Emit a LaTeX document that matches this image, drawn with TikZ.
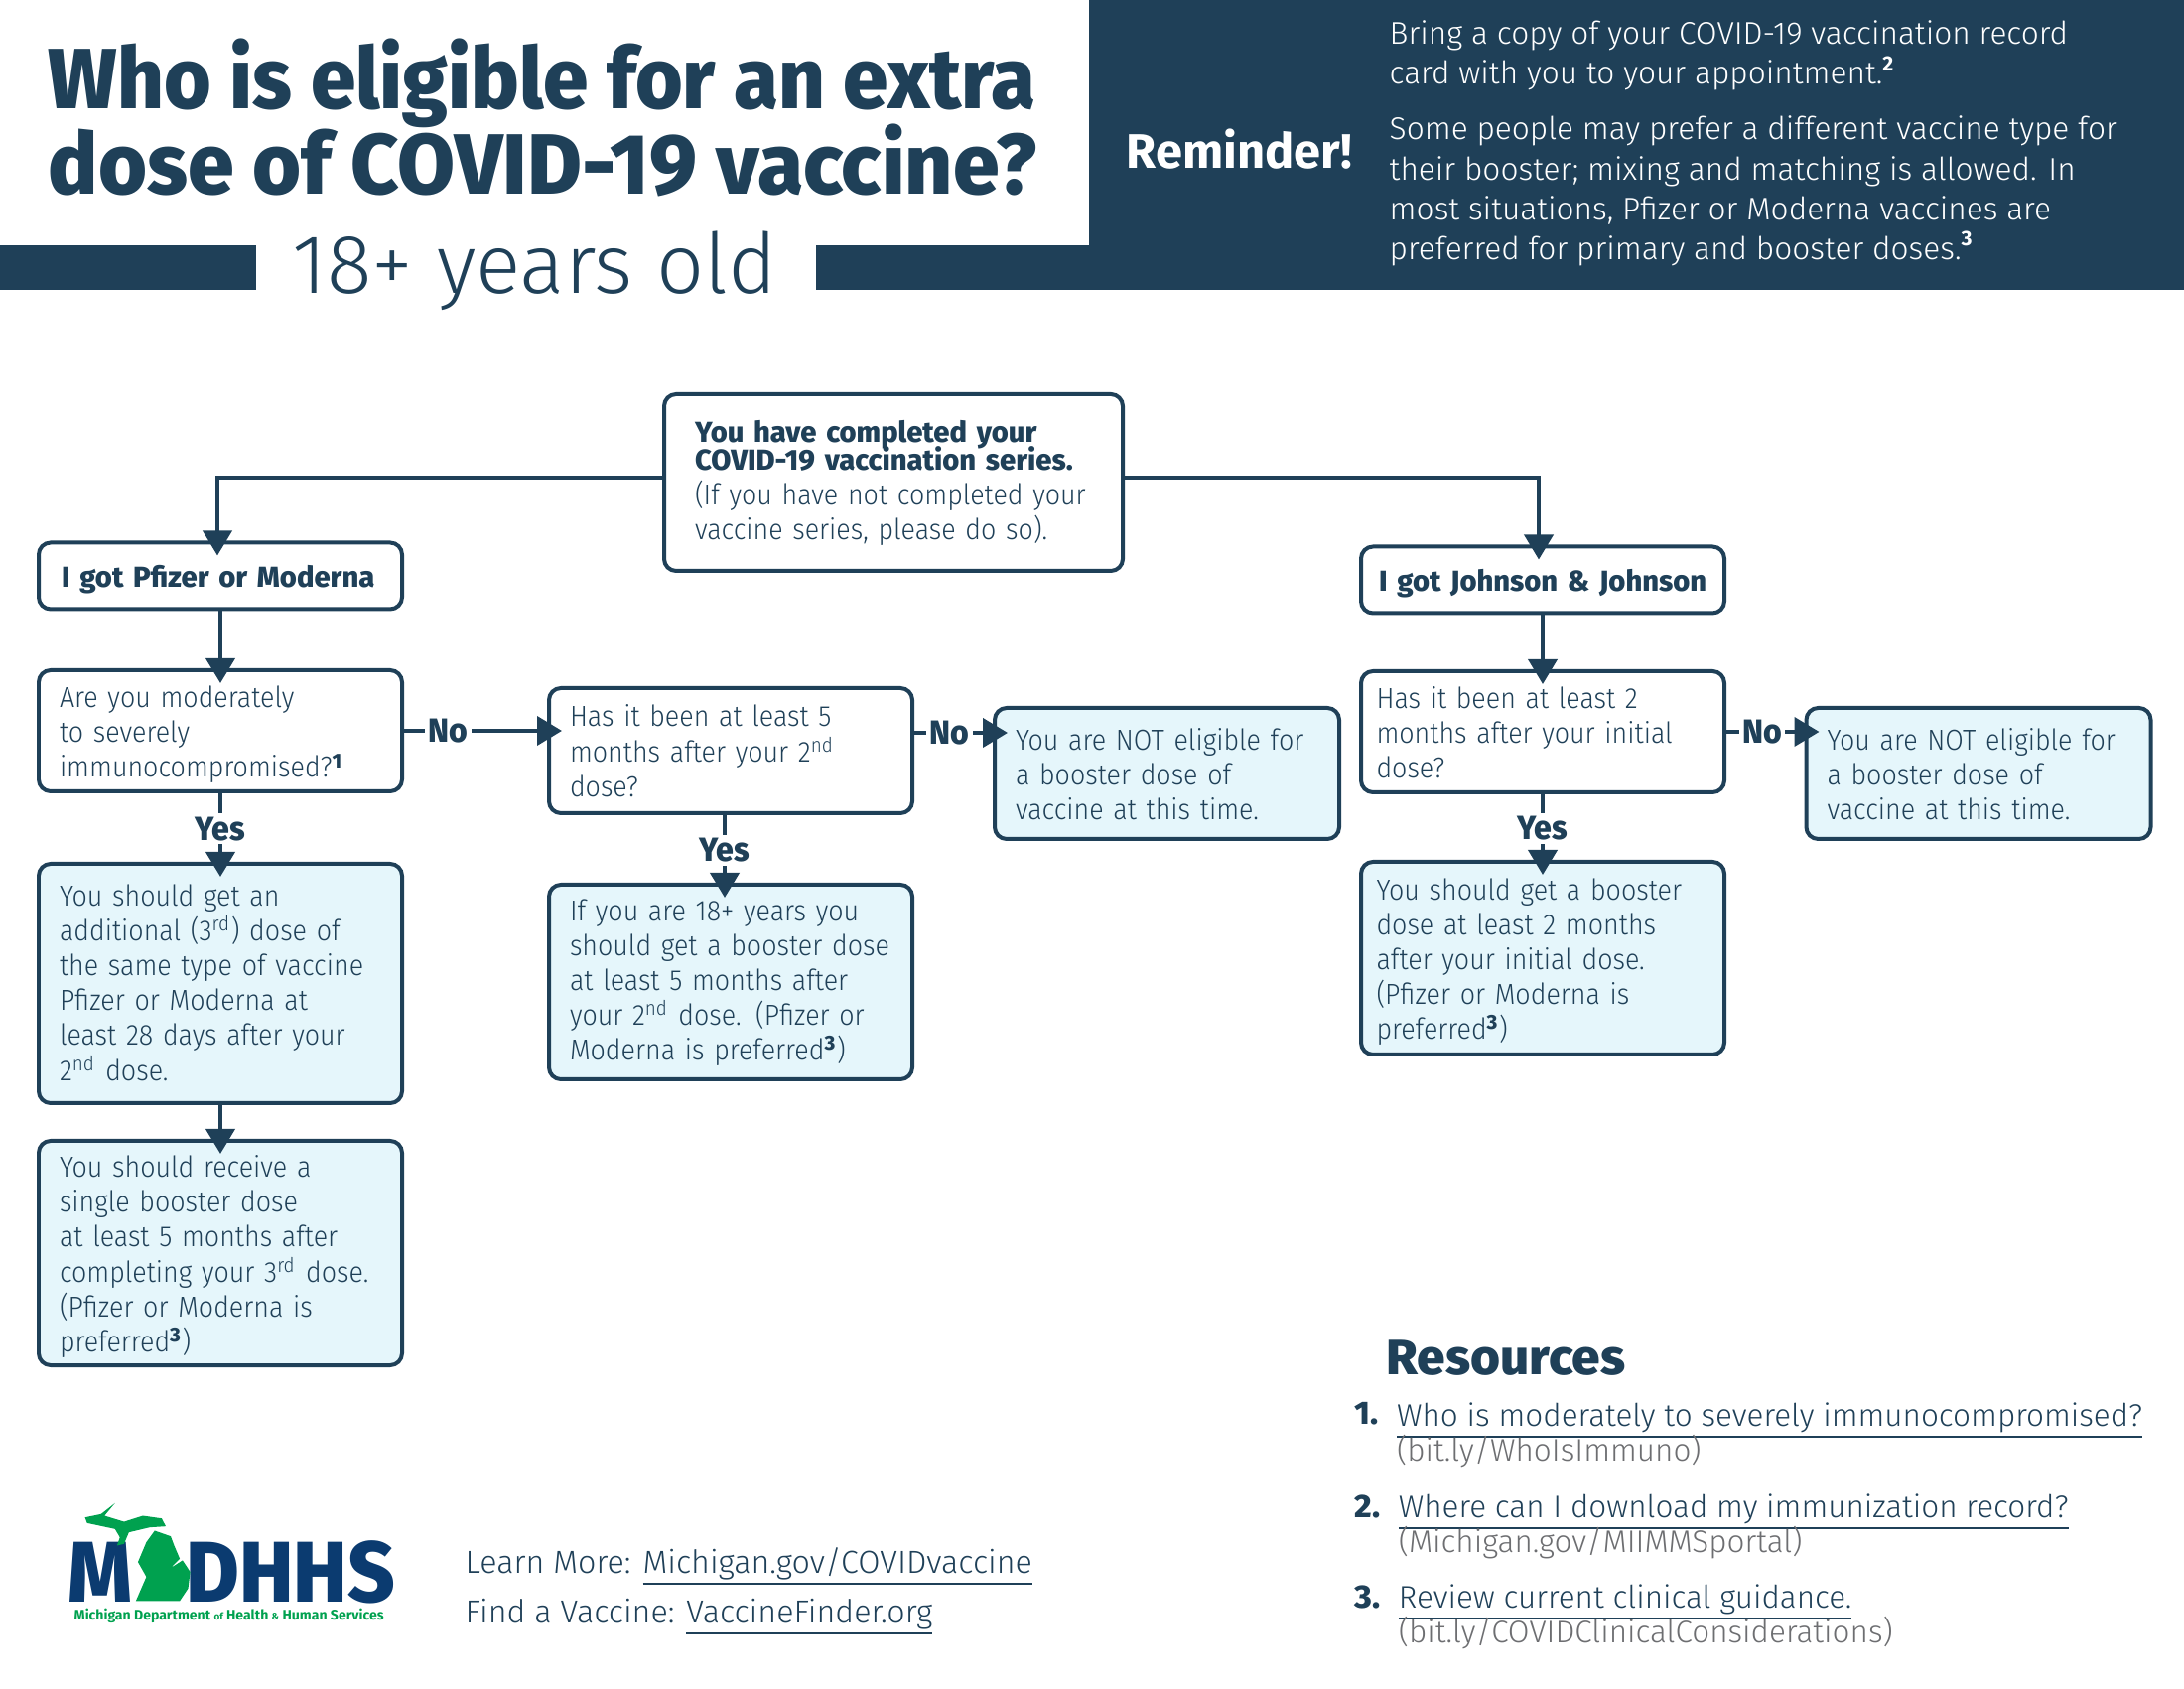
\documentclass[tikz,border=0pt]{standalone}
\usepackage{fontspec}
\setmainfont{Fira Sans Light}[BoldFont={Fira Sans Bold}]
\newfontfamily\headfont{Fira Sans ExtraBold}[FakeStretch=0.948]
\newfontfamily\widehead{Fira Sans ExtraBold}[FakeStretch=1.03]
\newfontfamily\bodyfont{Fira Sans Light}[FakeStretch=0.92, BoldFont={Fira Sans ExtraBold}, BoldFeatures={FakeStretch=1.0}]
\usepackage{xcolor}
\usetikzlibrary{arrows.meta,positioning}
\definecolor{navy}{HTML}{1F4058}
\definecolor{pale}{HTML}{E5F6FB}
\definecolor{mdblue}{HTML}{0B3B70}
\definecolor{mdgreen}{HTML}{00A14F}
\definecolor{linkgrey}{HTML}{6D6E71}
\newcommand{\linkline}[1]{\underline{\smash{#1}\rule[-1.5pt]{0pt}{0pt}}}
\newenvironment{lines}[1][0.33cm]{\begin{tabular}{@{}l@{}}\rule{0pt}{#1}\ignorespaces}{\end{tabular}}

\begin{document}
\begin{tikzpicture}[
  box/.style={draw=navy, line width=0.04cm, rounded corners=0.12cm, inner xsep=0.21cm, inner ysep=0pt, align=left, text=navy, font=\fontsize{8.3}{9.96}\selectfont\bodyfont},
  qbox/.style={box, fill=white, text width=3.24cm},
  abox/.style={box, fill=pale, text width=3.24cm},
  headbox/.style={box, fill=white, text width=3.24cm, minimum height=0.67cm},
  flow/.style={draw=navy, line width=0.04cm, -{Triangle[length=0.25cm,width=0.29cm]}, shorten >=-0.15cm},
  lab/.style={fill=white, inner sep=0.035cm, text=navy, font=\fontsize{9.6}{11}\selectfont\headfont},
  plain/.style={inner sep=0pt, anchor=west, text=navy}]

\useasboundingbox (0,0) rectangle (22,17);

\fill[navy] (10.97,17) rectangle (22,14.08);
\fill[navy] (0,14.08) rectangle (2.58,14.53);
\fill[navy] (8.22,14.08) rectangle (10.97,14.53);

\node[plain, font=\fontsize{24.5}{24.2}\selectfont\headfont] (title) at (0.48,15.70) {
\begin{tabular}{@{}l@{}}
Who is eligible for an extra \\[-0.1cm]
\scalebox{1.029}[1]{dose of COVID-19 vaccine?}
\end{tabular}
};
\node[plain, font=\fontsize{24}{29}\selectfont] (age) at (2.94,14.27) {18+ years old};

\node[plain, text=white, font=\fontsize{13.9}{17}\selectfont\bfseries] (remind) at (11.34,15.5) {Reminder!};
\node[plain, text=white, font=\fontsize{9}{11.4}\selectfont] (remtext) at (13.99,15.55) {
\begin{tabular}{@{}l@{}}
Bring a copy of your COVID-19 vaccination record \\
card with you to your appointment.\textsuperscript{\bfseries 2} \\[0.16cm]
Some people may prefer a different vaccine type for \\
their booster; mixing and matching is allowed. In \\
most situations, Pfizer or Moderna vaccines are \\
preferred for primary and booster doses.\textsuperscript{\bfseries 3}
\end{tabular}
};

\node[box, fill=white, minimum height=1.78cm, inner xsep=0.31cm, text width=4.0cm] (top) at (9.00,12.14) {
\begin{lines}[0.274cm]
\textbf{You have completed your} \\[-0.07cm]
\textbf{COVID-19 vaccination series.} \\
(If you have not completed your \\
vaccine series, please do so).
\end{lines}
};

\node[headbox, inner xsep=0.23cm, text width=3.2cm] (pfizer) at (2.22,11.20) {\begin{lines}\textbf{I got Pfizer or Moderna}\end{lines}};
\node[headbox, inner xsep=0.18cm, text width=3.3cm] (jj) at (15.54,11.16) {\begin{lines}\textbf{I got Johnson \& Johnson}\end{lines}};

\node[qbox, minimum height=1.22cm] (q1) at (2.22,9.64) {
\begin{lines}[0.345cm]
Are you moderately \\
to severely \\
immunocompromised?\textsuperscript{\bfseries 1}
\end{lines}
};
\node[qbox, minimum height=1.26cm] (q2) at (7.36,9.44) {
\begin{lines}
Has it been at least 5 \\
months after your 2\textsuperscript{nd} \\
dose?
\end{lines}
};
\node[abox, minimum height=1.32cm, text width=3.05cm] (not1) at (11.755,9.21) {
\begin{lines}
You are NOT eligible for \\
a booster dose of \\
vaccine at this time.
\end{lines}
};
\node[qbox, minimum height=1.22cm, inner xsep=0.155cm, text width=3.35cm] (q3) at (15.54,9.63) {
\begin{lines}
Has it been at least 2 \\
months after your initial \\
dose?
\end{lines}
};
\node[abox, minimum height=1.32cm, text width=3.05cm] (not2) at (19.93,9.21) {
\begin{lines}
You are NOT eligible for \\
a booster dose of \\
vaccine at this time.
\end{lines}
};

\node[abox, minimum height=2.41cm] (a1) at (2.22,7.095) {
\begin{lines}[0.30cm]
You should get an \\
additional (3\textsuperscript{rd}) dose of \\
the same type of vaccine \\
Pfizer or Moderna at \\
least 28 days after your \\
2\textsuperscript{nd} dose.
\end{lines}
};
\node[abox, minimum height=2.26cm] (a2) at (2.22,4.38) {
\begin{lines}
You should receive a \\
single booster dose \\
at least 5 months after \\
completing your 3\textsuperscript{rd} dose. \\
(Pfizer or Moderna is \\
preferred\textsuperscript{\bfseries 3})
\end{lines}
};
\node[abox, minimum height=1.96cm] (a3) at (7.36,7.11) {
\begin{lines}[0.274cm]
If you are 18+ years you \\
should get a booster dose \\
at least 5 months after \\
your 2\textsuperscript{nd} dose. (Pfizer or \\
Moderna is preferred\textsuperscript{\bfseries 3})
\end{lines}
};
\node[abox, minimum height=1.94cm, inner xsep=0.155cm, text width=3.35cm] (a4) at (15.54,7.35) {
\begin{lines}
You should get a booster \\
dose at least 2 months \\
after your initial dose. \\
(Pfizer or Moderna is \\
preferred\textsuperscript{\bfseries 3})
\end{lines}
};

\path[flow] ([yshift=0.05cm]top.west) -| ([xshift=-0.03cm]pfizer.north);
\path[flow] ([yshift=0.05cm]top.east) -| ([xshift=-0.04cm]jj.north);
\path[flow] (pfizer) -- (q1);
\path[flow] (jj) -- (q3);
\path[flow] (q1.east) -- node[lab, pos=0.31] (no1) {No} (q1.east -| q2.west);
\path[flow] ([yshift=0.18cm]q2.east) -- node[lab, pos=0.45] (no2) {No} ([yshift=0.18cm]q2.east -| not1.west);
\path[flow] (q3.east) -- node[lab, pos=0.46] (no3) {No} (q3.east -| not2.west);
\path[flow] (q1) -- node[lab, pos=0.52] (yes1) {Yes} (a1);
\path[flow] ([xshift=-0.06cm]q2.south) -- node[lab, pos=0.52] (yes2) {Yes} ([xshift=-0.06cm]a3.north);
\path[flow] (q3) -- node[lab, pos=0.52] (yes3) {Yes} (a4);
\path[flow] (a1) -- (a2);

\node[plain, font=\fontsize{14.2}{17}\selectfont\widehead] (res) at (13.96,3.32) {Resources};
\node[plain, font=\fontsize{9.3}{9.96}\selectfont\widehead] (n1) at (13.64,2.76) {1.};
\node[plain, font=\fontsize{9.3}{9.96}\selectfont\widehead] (n2) at (13.64,1.83) {2.};
\node[plain, font=\fontsize{9.3}{9.96}\selectfont\widehead] (n3) at (13.64,0.92) {3.};
\node[plain, font=\fontsize{8.95}{9.96}\selectfont, right=0.17cm of n1.east, yshift=-0.23cm] (r1) {
\begin{tabular}{@{}l@{}}
\linkline{Who is moderately to severely immunocompromised?} \\[-0.04cm]
\textcolor{linkgrey}{(bit.ly/WhoIsImmuno)}
\end{tabular}
};
\node[plain, font=\fontsize{8.95}{9.96}\selectfont, right=0.17cm of n2.east, yshift=-0.22cm] (r2) {
\begin{tabular}{@{}l@{}}
\linkline{Where can I download my immunization record?} \\[-0.04cm]
\textcolor{linkgrey}{(Michigan.gov/MIIMMSportal)}
\end{tabular}
};
\node[plain, font=\fontsize{8.95}{9.96}\selectfont, right=0.17cm of n3.east, yshift=-0.22cm] (r3) {
\begin{tabular}{@{}l@{}}
\linkline{Review current clinical guidance.} \\[-0.04cm]
\textcolor{linkgrey}{(bit.ly/COVIDClinicalConsiderations)}
\end{tabular}
};

\node[plain, font=\fontsize{9.17}{11}\selectfont] (learn) at (4.68,1.20) {Learn More: \linkline{Michigan.gov/COVIDvaccine}};
\node[plain, font=\fontsize{9.17}{11}\selectfont] (find) at (4.68,0.71) {Find a Vaccine: \linkline{VaccineFinder.org}};

\node[plain, text=mdblue, font=\fontsize{24.7}{25}\selectfont\headfont] (logom) at (0.68,1.17) {M};
\node[plain, text=mdblue, font=\fontsize{24.7}{25}\selectfont\headfont] (logod) at (1.87,1.17) {DHHS};
\begin{scope}[x=0.00702cm, y=-0.00333cm, shift={(0cm,2.4cm)}]
\fill[mdgreen] (165,162) -- (145,195) -- (122,205) -- (125,222) -- (165,240) -- (172,265) -- (168,290) -- (178,285) -- (185,250) -- (215,235) -- (238,232) -- (232,208) -- (205,200) -- (178,218) -- (150,200) -- cycle;
\fill[mdgreen] (222,245) -- (245,262) -- (250,290) -- (258,330) -- (245,358) -- (262,335) -- (273,370) -- (270,420) -- (258,458) -- (195,458) -- (210,385) -- (198,340) -- (210,280) -- cycle;
\end{scope}
\node[plain, text=mdgreen, font=\fontsize{4.0}{5}\selectfont\bfseries] (logot) at (0.74,0.73) {Michigan Department {\fontsize{2.8}{3}\selectfont of} Health {\fontsize{2.8}{3}\selectfont \&} Human Services};
\end{tikzpicture}
\end{document}
